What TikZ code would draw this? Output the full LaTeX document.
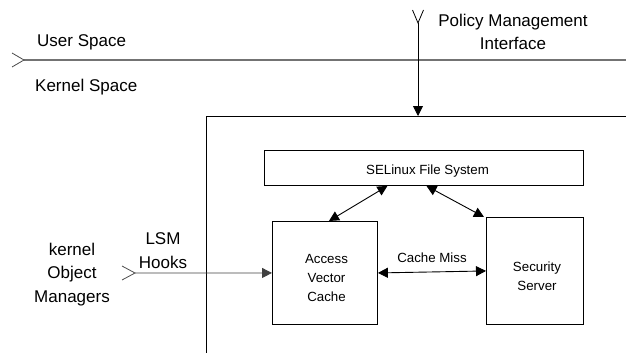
\documentclass[tikz,border=0pt]{standalone}
\usepackage{fontspec}
\setmainfont{Liberation Sans}
\usetikzlibrary{arrows.meta,calc}
\begin{document}
\begin{tikzpicture}[x=1pt,y=-1pt,
  box/.style={draw=black,line width=0.9pt,inner sep=0,anchor=north west},
  big/.style={font=\fontsize{17}{23.5}\selectfont,inner sep=0,align=center,anchor=base},
  small/.style={font=\fontsize{13.3}{19}\selectfont,inner sep=0,align=center,anchor=base},
  conn/.style={line width=0.9pt,-{Triangle[length=10pt,width=10pt]}},
  bi/.style={line width=0.9pt,{Triangle[length=10pt,width=10pt]}-{Triangle[length=10pt,width=10pt]}},
  barb/.style={line width=0.8pt,line join=miter}
]
\useasboundingbox (0,0) rectangle (626,353);

% user / kernel boundary
\coordinate (us) at (24,60);
\coordinate (ue) at (626,60);
\draw[line width=1.3pt,draw=black!55] (us) -- (ue);
\draw[barb,draw=black!70] (12,53) -- (us) -- (12,67);
\node[big,anchor=base west] (usr) at (37,46.5) {User Space};
\node[big,anchor=base west] (ker) at (35,92) {Kernel Space};

% kernel box (partial)
\coordinate (bl) at (206,353);
\coordinate (btl) at (206,116);
\coordinate (btr) at (626,116);
\draw[line width=0.9pt] (bl) -- (btl) -- (btr);

% policy management interface
\coordinate (ps) at (418,23);
\coordinate (pe) at (418,116);
\draw[conn] (ps) -- (pe);
\draw[barb] (412.5,10) -- (ps) -- (423.5,10);
\node[big] (pmi) at (513,50) {Policy Management\\Interface};

% boxes
\node[box,minimum width=319,minimum height=35] (fs) at (264,150) {};
\node[small] (fst) at (427.5,174) {SELinux File System};
\node[box,minimum width=105,minimum height=103] (avc) at (272,221) {};
\node[small] (avct) at (326.5,301) {Access\\Vector\\Cache};
\node[box,minimum width=97,minimum height=107] (ss) at (486,217) {};
\node[small] (sst) at (537,290) {Security\\Server};

% connectors
\draw[bi] ([xshift=4pt]avc.north) -- ([xshift=-36.5pt]fs.south);
\draw[bi] ([xshift=2.5pt]fs.south) -- ([xshift=-2pt]ss.north west);
\draw[bi] (avc.east) -- (ss.west);
\node[small] (cm) at (432,262) {Cache Miss};

% LSM hooks
\coordinate (ls) at (135,273);
\draw[conn,draw=black!75] (ls) -- (avc.west);
\draw[barb,draw=black!70] (122,266) -- (ls) -- (122,280);
\node[big] (lsm) at (163,268) {LSM\\Hooks};
\node[big] (kom) at (72,302) {kernel\\Object\\Managers};
\end{tikzpicture}
\end{document}
